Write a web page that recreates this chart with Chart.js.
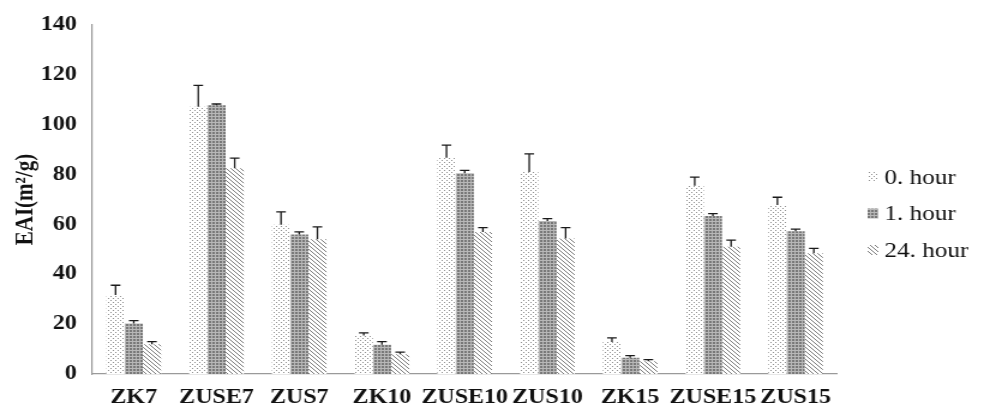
<!DOCTYPE html>
<html>
<head>
<meta charset="utf-8">
<script src="https://cdn.jsdelivr.net/npm/chart.js@4.4.1/dist/chart.umd.min.js"></script>
<style>
    html, body { margin: 0; padding: 0; background: #fff; overflow: hidden; }
    /* the source figure is stretched ~1.2x horizontally, so draw narrow and stretch it */
    #wrap { width: 820px; height: 406px; transform: scaleX(1.2); transform-origin: 0 0; }
</style>
</head>
<body>
<div id="wrap"><canvas id="chart" width="820" height="406"></canvas></div>
<script>
// Data
const categories = ['ZK7', 'ZUSE7', 'ZUS7', 'ZK10', 'ZUSE10', 'ZUS10', 'ZK15', 'ZUSE15', 'ZUS15'];
const seriesLabels = ['0. hour', '1. hour', '24. hour'];

const hour0 = [31.7, 107.2, 59.9, 15.4, 86.7, 81.0, 12.8, 75.5, 67.8];
const hour0Err = [3.9, 8.6, 5.1, 1.1, 5.1, 7.3, 1.7, 3.5, 3.1];

const hour1 = [20.3, 107.8, 56.0, 11.7, 80.5, 61.4, 6.5, 63.4, 57.3];
const hour1Err = [1.1, 0.5, 1.0, 1.3, 1.2, 0.9, 0.9, 0.9, 0.8];

const hour24 = [11.9, 82.5, 54.1, 7.9, 57.0, 54.4, 5.1, 51.0, 48.4];
const hour24Err = [1.1, 4.1, 4.9, 0.9, 1.7, 4.3, 0.7, 2.7, 2.0];

const yTicks = { min: 0, max: 140, step: 20 };

const SERIF = "'Liberation Serif', 'Times New Roman', serif";
const canvas = document.getElementById('chart');
const ctx = canvas.getContext('2d');

// Small tiles for the Excel-style fill patterns
function makePattern(kind) {
    const tile = document.createElement('canvas');
    const g = tile.getContext('2d');
    if (kind === 'dots') {
        tile.width = 4; tile.height = 4;
        g.fillStyle = '#fff'; g.fillRect(0, 0, 4, 4);
        g.fillStyle = '#8e8e8e';
        g.fillRect(0, 0, 1, 1);
        g.fillRect(2, 2, 1, 1);
    } else if (kind === 'dense') {
        tile.width = 3; tile.height = 3;
        g.fillStyle = '#b8b8b8'; g.fillRect(0, 0, 3, 3);
        g.fillStyle = '#787878'; g.fillRect(0, 0, 2, 2);
    } else {
        tile.width = 4; tile.height = 4;
        g.fillStyle = '#fff'; g.fillRect(0, 0, 4, 4);
        g.fillStyle = '#7c7c7c';
        for (let i = 0; i < 4; i++) g.fillRect(i, i, 1, 1);
    }
    return ctx.createPattern(tile, 'repeat');
}

// One-sided (upper) error bars drawn from the bar tops
const errorBarPlugin = {
    id: 'errorBars',
    afterDatasetsDraw(chart) {
        const c = chart.ctx;
        const yScale = chart.scales.y;
        c.save();
        c.strokeStyle = '#1a1a1a';
        c.lineWidth = 1.3;
        chart.data.datasets.forEach((ds, i) => {
            const meta = chart.getDatasetMeta(i);
            meta.data.forEach((bar, j) => {
                const top = yScale.getPixelForValue(ds.data[j] + ds.errors[j]);
                c.beginPath();
                c.moveTo(bar.x, bar.y);
                c.lineTo(bar.x, top);
                c.moveTo(bar.x - 4, top);
                c.lineTo(bar.x + 4, top);
                c.stroke();
            });
        });
        c.restore();
    },
};

// Legend on the right, placed like the original
const sideLegendPlugin = {
    id: 'sideLegend',
    afterDraw(chart) {
        const c = chart.ctx;
        c.save();
        c.font = `21px ${SERIF}`;
        c.textBaseline = 'middle';
        chart.data.datasets.forEach((ds, i) => {
            const cy = 177 + i * 36.5;
            c.fillStyle = ds.backgroundColor;
            c.fillRect(723, cy - 5, 9, 10);
            c.fillStyle = '#111';
            c.fillText(ds.label, 737, cy + 1);
        });
        c.restore();
    },
};

const axisFont = { family: SERIF, size: 20, weight: 'bold' };

new Chart(canvas, {
    type: 'bar',
    data: {
        labels: categories,
        datasets: [
            { label: seriesLabels[0], data: hour0, errors: hour0Err, backgroundColor: makePattern('dots') },
            { label: seriesLabels[1], data: hour1, errors: hour1Err, backgroundColor: makePattern('dense') },
            { label: seriesLabels[2], data: hour24, errors: hour24Err, backgroundColor: makePattern('diag') },
        ],
    },
    options: {
        responsive: false,
        devicePixelRatio: 1,
        animation: false,
        datasets: {
            bar: { categoryPercentage: 0.66, barPercentage: 1.0, borderWidth: 0 },
        },
        layout: { padding: { top: 20, right: 122.5, bottom: 0, left: 0 } },
        plugins: {
            legend: { display: false },
            tooltip: { enabled: false },
        },
        scales: {
            x: {
                grid: { display: false, drawTicks: false },
                border: { display: true, color: '#9a9a9a', width: 1.2 },
                ticks: { color: '#111', font: axisFont, padding: 12, maxRotation: 0, autoSkip: false },
                afterFit(scale) { scale.height = 32; },
            },
            y: {
                min: yTicks.min,
                max: yTicks.max,
                grid: { display: false, drawTicks: false },
                border: { display: true, color: '#9a9a9a', width: 1.2 },
                ticks: { stepSize: yTicks.step, color: '#111', font: axisFont, padding: 13 },
                title: {
                    display: true,
                    text: 'EAI(m²/g)',
                    color: '#111',
                    font: { family: SERIF, size: 21, weight: 'bold' },
                    padding: { top: 9, bottom: 0 },
                },
                afterFit(scale) { scale.width = 77; },
            },
        },
    },
    plugins: [errorBarPlugin, sideLegendPlugin],
});
</script>
</body>
</html>
